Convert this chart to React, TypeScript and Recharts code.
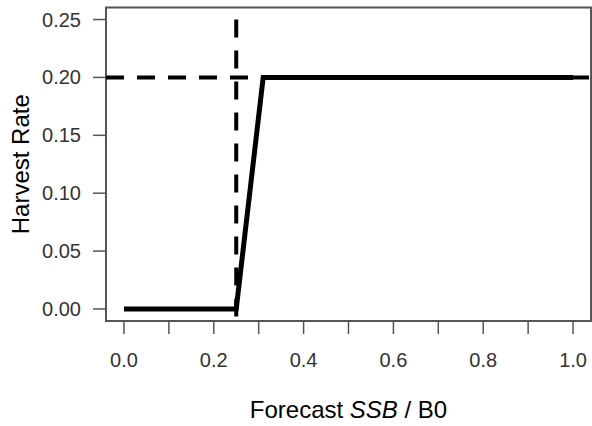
import React from 'react';
import { ComposedChart, Line, XAxis, YAxis, ReferenceLine, ReferenceArea } from 'recharts';

const ssbValues = [0, 0.25, 0.31, 1.0];
const rateValues = [0, 0, 0.2, 0.2];
const xTicks = [0, 0.1, 0.2, 0.3, 0.4, 0.5, 0.6, 0.7, 0.8, 0.9, 1.0];
const xLabelTicks = [0, 0.2, 0.4, 0.6, 0.8, 1.0];
const yTicks = [0, 0.05, 0.1, 0.15, 0.2, 0.25];
const targetRate = 0.2;
const thresholdSSB = 0.25;
const thresholdTop = 0.25;
const xDomain: [number, number] = [-0.04, 1.04];
const yDomain: [number, number] = [-0.0104, 0.2604];

const data = ssbValues.map((x, i) => ({ x, rate: rateValues[i] }));

const FONT = '"Liberation Sans", Arial, sans-serif';

const XTick = (props: any) => {
  const { x, payload } = props;
  const v = payload.value;
  const show = xLabelTicks.some((t) => Math.abs(t - v) < 1e-9);
  if (!show) return <g />;
  return (
    <text x={x} y={360} textAnchor="middle" dominantBaseline="central" fontFamily={FONT} fontSize={20} fill="#333">
      {v.toFixed(1)}
    </text>
  );
};

const YTick = (props: any) => {
  const { y, payload } = props;
  return (
    <text x={81} y={y} textAnchor="end" dominantBaseline="central" fontFamily={FONT} fontSize={20} fill="#333">
      {payload.value.toFixed(2)}
    </text>
  );
};

const XTitle = (props: any) => {
  const vb = props.viewBox || {};
  const cx = (vb.x ?? 106) + (vb.width ?? 485) / 2;
  return (
    <text x={cx} y={409} textAnchor="middle" dominantBaseline="central" fontFamily={FONT} fontSize={24} fill="#000">
      Forecast <tspan fontStyle="italic">SSB</tspan> / B0
    </text>
  );
};

const YTitle = (props: any) => {
  const vb = props.viewBox || {};
  const cy = (vb.y ?? 7.5) + (vb.height ?? 313.5) / 2;
  return (
    <text x={20} y={cy} transform={`rotate(-90 20 ${cy})`} textAnchor="middle" dominantBaseline="central" fontFamily={FONT} fontSize={24} fill="#000">
      Harvest Rate
    </text>
  );
};

export default function App() {
  return (
    <div style={{ position: 'absolute', left: 0, top: 0, background: '#fff' }}>
      <ComposedChart width={592} height={426} data={data} margin={{ top: 7.5, right: 1, bottom: 0, left: 0 }}>
        <XAxis
          dataKey="x"
          type="number"
          domain={xDomain}
          allowDataOverflow
          ticks={xTicks}
          interval={0}
          tickSize={13}
          tickLine={{ stroke: '#555', strokeWidth: 1.5 }}
          axisLine={false}
          height={105}
          tick={XTick}
          label={<XTitle />}
        />
        <YAxis
          type="number"
          domain={yDomain}
          allowDataOverflow
          ticks={yTicks}
          interval={0}
          tickSize={13}
          tickLine={{ stroke: '#555', strokeWidth: 1.5 }}
          axisLine={false}
          width={106}
          tick={YTick}
          label={<YTitle />}
        />
        <ReferenceArea
          x1={xDomain[0]}
          x2={xDomain[1]}
          y1={yDomain[0]}
          y2={yDomain[1]}
          fill="none"
          stroke="#555"
          strokeWidth={2}
          ifOverflow="visible"
        />
        <ReferenceLine y={targetRate} stroke="#000" strokeWidth={4} strokeDasharray="18 13" />
        <ReferenceLine
          segment={[
            { x: thresholdSSB, y: thresholdTop },
            { x: thresholdSSB, y: yDomain[0] },
          ]}
          stroke="#000"
          strokeWidth={4}
          strokeDasharray="18 13"
        />
        <Line
          type="linear"
          dataKey="rate"
          stroke="#000"
          strokeWidth={5}
          dot={false}
          activeDot={false}
          isAnimationActive={false}
        />
      </ComposedChart>
    </div>
  );
}
